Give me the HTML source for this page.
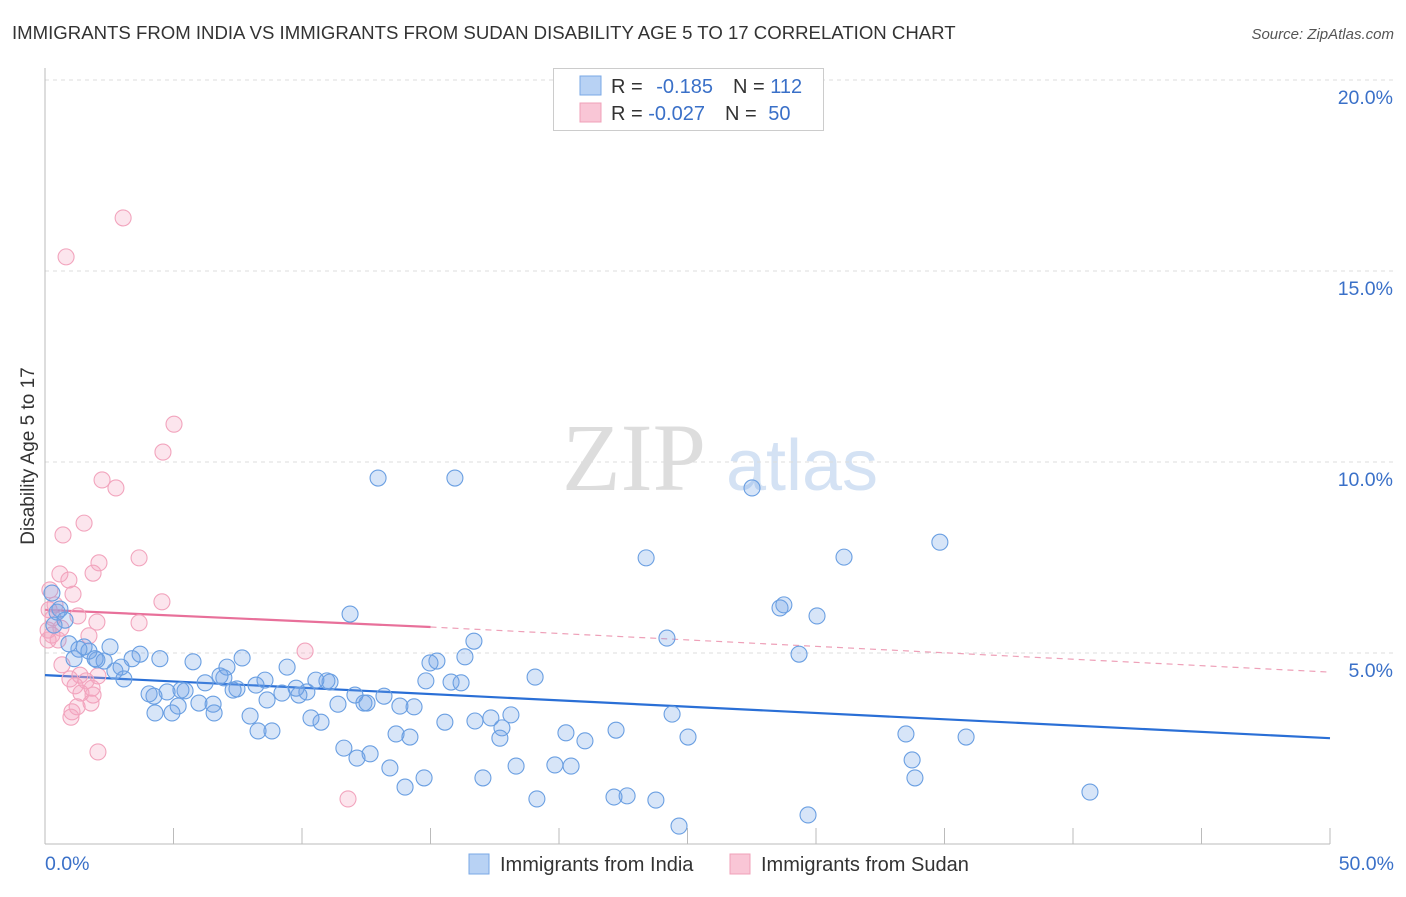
<!DOCTYPE html>
<html><head><meta charset="utf-8"><style>
body{margin:0;background:#fff;font-family:"Liberation Sans",sans-serif;}
</style></head><body>
<svg id="c" width="1406" height="892" xmlns="http://www.w3.org/2000/svg" style="font-family:'Liberation Sans',sans-serif">
<text x="12" y="39" font-size="18.6" fill="#333">IMMIGRANTS FROM INDIA VS IMMIGRANTS FROM SUDAN DISABILITY AGE 5 TO 17 CORRELATION CHART</text>
<text x="1394" y="39" font-size="15" fill="#555" font-style="italic" text-anchor="end">Source: ZipAtlas.com</text>
<text transform="translate(34,456) rotate(-90)" font-size="19" fill="#333" text-anchor="middle">Disability Age 5 to 17</text>
<g><text x="634" y="490" font-size="96" font-family="Liberation Serif,serif" fill="#ddd" text-anchor="middle">ZIP</text><text x="802" y="490" font-size="72" fill="#d4e2f4" text-anchor="middle">atlas</text></g>
<g id="grid"></g><g id="axes"></g><g id="trend"></g><g id="pts"></g>
<g>
<rect x="553.5" y="68.5" width="270" height="62" fill="#fff" stroke="#ccc"/>
<rect x="580" y="76" width="21" height="19" fill="#b8d2f4" stroke="#7aa8e6"/>
<rect x="580" y="103" width="21" height="19" fill="#f9c6d6" stroke="#f0a0b8"/>
<text x="611" y="93" font-size="20" fill="#333">R = <tspan fill="#3a70c8" dx="8">-0.185</tspan><tspan dx="20" fill="#333">N = </tspan><tspan fill="#3a70c8">112</tspan></text>
<text x="611" y="120" font-size="20" fill="#333">R = <tspan fill="#3a70c8">-0.027</tspan><tspan dx="20" fill="#333">N = </tspan><tspan fill="#3a70c8" dx="6">50</tspan></text>
</g>
<g>
<rect x="469" y="854" width="20" height="20" fill="#b8d2f4" stroke="#7aa8e6"/>
<text x="500" y="871" font-size="20" fill="#333">Immigrants from India</text>
<rect x="730" y="854" width="20" height="20" fill="#f9c6d6" stroke="#f0a0b8"/>
<text x="761" y="871" font-size="20" fill="#333">Immigrants from Sudan</text>
</g>
</svg>
<script>
const yTicks=[5,10,15,20];
const yTickLabels=["5.0%","10.0%","15.0%","20.0%"];
const xTickLabels=["0.0%","50.0%"];
const indiaX=[12.96,15.95,27.51,23.39,31.09,34.82,11.87,28.60,28.75,30.04,24.20,16.69,29.34,19.07,16.34,15.25,14.98,14.82,15.80,16.19,13.19,13.81,14.36,15.56,16.73,17.35,18.13,17.78,17.70,20.27,21.01,22.22,24.40,25.02,33.50,35.84,33.74,33.85,40.66,29.69,24.67,23.77,22.65,22.14,19.14,20.47,19.84,18.33,17.04,14.75,14.01,13.42,12.65,12.14,11.63,13.66,14.20,10.74,10.35,11.40,12.41,12.53,12.06,11.09,10.97,10.54,10.19,9.88,9.77,9.42,9.22,8.64,8.56,8.21,7.67,7.47,7.32,6.96,7.08,6.81,6.23,5.76,5.45,5.29,4.75,4.24,4.05,4.28,4.94,5.18,5.99,6.54,6.58,7.98,8.29,8.83,4.47,3.70,3.39,3.07,2.96,2.72,2.53,2.30,2.02,1.95,1.71,1.52,1.32,1.13,0.93,0.47,0.27,0.35,0.78,0.58];
const indiaY=[9.58,9.58,9.32,7.49,7.51,7.90,6.02,6.18,6.26,5.97,5.39,5.31,4.97,4.37,4.90,4.79,4.74,4.27,4.24,4.22,3.87,3.61,3.59,3.19,3.22,3.30,3.38,3.04,2.77,2.91,2.70,2.98,3.40,2.80,2.88,2.80,2.20,1.73,1.36,0.76,0.47,1.15,1.26,1.23,1.18,2.04,2.07,2.04,1.73,1.73,1.49,1.99,2.36,2.25,2.51,2.88,2.80,3.19,3.30,3.66,3.69,3.69,3.90,4.24,4.27,4.29,3.98,3.90,4.08,4.63,3.95,3.77,4.29,4.16,4.87,4.06,4.03,4.35,4.63,4.40,4.22,4.77,4.01,4.03,3.98,3.87,3.93,3.43,3.43,3.61,3.69,3.66,3.43,3.35,2.96,2.96,4.85,4.97,4.85,4.32,4.63,4.53,5.16,4.79,4.82,4.85,5.05,5.16,5.10,4.85,5.24,6.07,6.57,5.73,5.86,6.15];
const sudanX=[3.04,0.82,5.02,4.59,2.22,2.76,1.52,0.70,3.66,2.10,1.87,0.58,0.93,1.09,4.55,3.66,0.39,0.16,1.28,2.02,0.31,0.12,0.27,0.62,1.71,0.51,10.12,0.66,1.36,1.83,2.06,0.97,1.17,1.60,1.40,1.87,1.25,1.79,1.05,1.01,2.06,11.79,0.19,0.12];
const sudanY=[16.39,15.37,10.99,10.26,9.53,9.32,8.40,8.09,7.49,7.36,7.09,7.07,6.91,6.54,6.34,5.79,6.26,6.13,5.97,5.81,5.92,5.60,5.47,5.65,5.45,5.34,5.05,4.69,4.42,4.08,4.40,4.32,4.14,4.27,3.95,3.90,3.59,3.69,3.46,3.32,2.41,1.18,6.65,5.34];
const indiaTrend=[4.42,2.77];
const sudanTrend=[6.13,5.68,4.50];
const NS="http://www.w3.org/2000/svg";
const X=v=>45+v*25.7, Y=v=>844-v*38.2;
function mk(p,t,a){const e=document.createElementNS(NS,t);for(const k in a)e.setAttribute(k,a[k]);p.appendChild(e);return e;}
const grid=document.getElementById('grid'),axes=document.getElementById('axes'),trend=document.getElementById('trend'),pts=document.getElementById('pts');
yTicks.forEach((t,i)=>{
 const l=mk(grid,'line',{x1:45,x2:1394,y1:Y(t),y2:Y(t),stroke:'#ddd','stroke-dasharray':'4,4'});
 
 
 const tx=mk(grid,'text',{x:1393,y:Y(t)+24,'font-size':19.5,fill:'#3a70c8','text-anchor':'end'});
 tx.textContent=yTickLabels[i];
 
 
});
const ax=mk(axes,'line',{x1:45,x2:45,y1:68,y2:844,stroke:'#bbb'});


const bx=mk(axes,'line',{x1:45,x2:1330,y1:844,y2:844,stroke:'#bbb'});


for(let i=0;i<=10;i++){const t=mk(axes,'line',{x1:X(i*5),x2:X(i*5),y1:828,y2:844,stroke:'#bbb'});
 
 }
[[0,'start',45],[50,'end',1394]].forEach((d,i)=>{const t=mk(axes,'text',{x:d[2],y:870,'font-size':19.5,fill:'#3a70c8','text-anchor':d[1]});t.textContent=xTickLabels[i];
 
 });
function dot(x,y,f,s,n){const c=mk(pts,'circle',{cx:X(x),cy:Y(y),r:8,fill:f,stroke:s,'stroke-width':1.1});
 
 }
sudanX.forEach((x,i)=>dot(x,sudanY[i],'rgba(244,160,190,0.28)','#f2a4bd','sudan-point'));
indiaX.forEach((x,i)=>dot(x,indiaY[i],'rgba(110,160,230,0.28)','#6a9fe2','india-point'));
const bt=mk(trend,'line',{x1:X(0),y1:Y(indiaTrend[0]),x2:X(50),y2:Y(indiaTrend[1]),stroke:'#2a6fd6','stroke-width':2.2});


const pt=mk(trend,'line',{x1:X(0),y1:Y(sudanTrend[0]),x2:X(15),y2:Y(sudanTrend[1]),stroke:'#e8709a','stroke-width':2.2});


const pd=mk(trend,'line',{x1:X(15),y1:Y(sudanTrend[1]),x2:X(50),y2:Y(sudanTrend[2]),stroke:'#eea0b8','stroke-width':1.2,'stroke-dasharray':'6,5'});


</script>
</body></html>
